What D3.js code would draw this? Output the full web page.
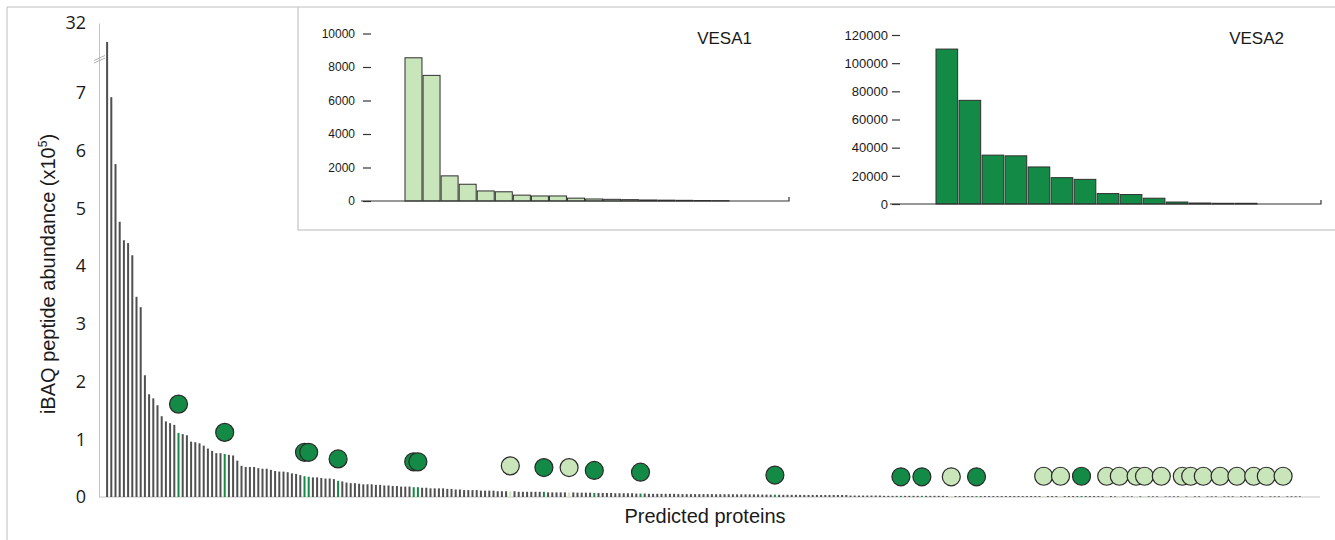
<!DOCTYPE html>
<html lang="en">
<head>
<meta charset="UTF-8">
<title>iBAQ peptide abundance</title>
<script src="https://d3js.org/d3.v7.min.js"></script>
<style>
  body { margin: 0; background: #fff; }
  svg text { fill: #1a1a1a; }
</style>
</head>
<body>
<svg id="svg" width="1335" height="540"></svg>
<script>
// ranked iBAQ abundance of all predicted proteins (x10^5)
const abundance = [
  19, 6.93, 5.77, 4.77, 4.45, 4.40, 4.19, 3.47, 3.29, 2.11,
  1.78, 1.71, 1.59, 1.40, 1.31, 1.28, 1.25, 1.11, 1.09, 1.07,
  0.96, 0.95, 0.93, 0.89, 0.84, 0.80, 0.76, 0.76, 0.745, 0.73,
  0.72, 0.63, 0.54, 0.52, 0.52, 0.52, 0.50, 0.49, 0.49, 0.47,
  0.45, 0.44, 0.44, 0.43, 0.41, 0.40, 0.38, 0.36, 0.35, 0.34,
  0.34, 0.33, 0.32, 0.32, 0.31, 0.28, 0.27, 0.25, 0.24, 0.24,
  0.23, 0.22, 0.22, 0.22, 0.21, 0.21, 0.20, 0.20, 0.19, 0.19,
  0.18, 0.18, 0.18, 0.17, 0.17, 0.16, 0.16, 0.15, 0.15, 0.15,
  0.15, 0.14, 0.14, 0.13, 0.13, 0.12, 0.12, 0.12, 0.12, 0.11,
  0.11, 0.11, 0.11, 0.10, 0.10, 0.10, 0.10, 0.10, 0.09, 0.09,
  0.09, 0.09, 0.09, 0.09, 0.09, 0.08, 0.08, 0.08, 0.08, 0.08,
  0.08, 0.08, 0.075, 0.075, 0.075, 0.075, 0.07, 0.07, 0.07, 0.07,
  0.07, 0.065, 0.065, 0.065, 0.065, 0.065, 0.06, 0.06, 0.06, 0.055,
  0.055, 0.055, 0.055, 0.055, 0.055, 0.055, 0.05, 0.05, 0.05, 0.05,
  0.05, 0.05, 0.05, 0.05, 0.05, 0.048, 0.048, 0.048, 0.048, 0.048,
  0.046, 0.046, 0.046, 0.046, 0.046, 0.044, 0.042, 0.042, 0.04, 0.04,
  0.038, 0.038, 0.038, 0.038, 0.038, 0.036, 0.036, 0.036, 0.036, 0.036,
  0.035, 0.035, 0.035, 0.035, 0.035, 0.035, 0.035, 0.025, 0.025, 0.025,
  0.025, 0.025, 0.025, 0.025, 0.025, 0.02, 0.02, 0.02, 0.02, 0.02,
  0.02, 0.02, 0.02, 0.02, 0.02, 0.02, 0.02, 0.02, 0.02, 0.02,
  0.016, 0.016, 0.016, 0.016, 0.016, 0.016, 0.016, 0.016, 0.016, 0.016,
  0.016, 0.016, 0.016, 0.016, 0.016, 0.016, 0.016, 0.016, 0.016, 0.016,
  0.016, 0.016, 0.016, 0.016, 0.016, 0.016, 0.016, 0.016, 0.016, 0.016,
  0.016, 0.016, 0.016, 0.016, 0.016, 0.016, 0.016, 0.016, 0.016, 0.016,
  0.012, 0.012, 0.012, 0.012, 0.012, 0.012, 0.012, 0.012, 0.012, 0.012,
  0.012, 0.012, 0.012, 0.012, 0.012, 0.012, 0.012, 0.012, 0.012, 0.012,
  0.012, 0.012, 0.012, 0.012, 0.012, 0.012, 0.012, 0.012, 0.012, 0.012,
  0.012, 0.012, 0.012, 0.012, 0.012, 0.012, 0.012, 0.012, 0.012, 0.012,
  0.012, 0.012, 0.012, 0.012, 0.012
];
const mainTicks = [0, 1, 2, 3, 4, 5, 6, 7, 32];

// proteins marked with a circle: rank index, family, circle height (x10^5)
const markIdx = [17, 28, 47, 48, 55, 73, 74, 96, 104, 110, 116, 127, 159, 189, 194, 201, 207,
  223, 227, 232, 238, 241, 245, 247, 251, 256, 258, 261, 265, 269, 273, 276, 280];
const markType = ["VESA2", "VESA2", "VESA2", "VESA2", "VESA2", "VESA2", "VESA2", "VESA1", "VESA2",
  "VESA1", "VESA2", "VESA2", "VESA2", "VESA2", "VESA2", "VESA1", "VESA2",
  "VESA1", "VESA1", "VESA2", "VESA1", "VESA1", "VESA1", "VESA1", "VESA1", "VESA1", "VESA1",
  "VESA1", "VESA1", "VESA1", "VESA1", "VESA1", "VESA1"];
const markLevel = [1.61, 1.12, 0.775, 0.775, 0.66, 0.61, 0.61, 0.54, 0.51, 0.51, 0.46, 0.43, 0.38,
  0.35, 0.35, 0.35, 0.35,
  0.36, 0.36, 0.36, 0.36, 0.36, 0.36, 0.36, 0.36, 0.36, 0.36, 0.36, 0.36, 0.36, 0.36, 0.36, 0.36];

// inset histograms
const vesa1Values = [8550, 7500, 1500, 1000, 600, 550, 350, 300, 300, 170, 120, 100, 80, 60, 50, 40, 30, 20];
const vesa1Ticks = [0, 2000, 4000, 6000, 8000, 10000];
const vesa2Values = [110000, 73600, 34700, 34200, 26300, 18700, 17500, 7400, 6700, 4100, 1400, 700, 500, 500];
const vesa2Ticks = [0, 20000, 40000, 60000, 80000, 100000, 120000];

const darkGreen = "#138a45";
const lightGreen = "#c9e5ba";
const barGray = "#505050";

const svg = d3.select("#svg");

// outer frame and inset frame
svg.append("path").attr("d", "M7,540V7H1335").attr("fill", "none").attr("stroke", "#bdbdbd");
svg.append("path").attr("d", "M298,7V230H1335").attr("fill", "none")
  .attr("stroke", "#d0d0d0").attr("stroke-width", 1.5);

drawMain();
drawInset({
  values: vesa1Values, ticks: vesa1Ticks, yRange: [201, 33.5], barRange: [405, 729],
  axisX: 363, axisEnd: 789, pad: 8, fontSize: 12, fill: lightGreen,
  label: "VESA1", labelX: 752, labelY: 43.5
});
drawInset({
  values: vesa2Values, ticks: vesa2Ticks, yRange: [204, 35], barRange: [936, 1257],
  axisX: 892, axisEnd: 1321, pad: 4, fontSize: 13, fill: darkGreen,
  label: "VESA2", labelX: 1284, labelY: 44
});

function drawMain() {
  const x = d3.scaleBand().domain(d3.range(abundance.length))
    .range([105, 105 + abundance.length * 4.2]);
  // broken axis: linear up to 7.6, compressed above the break
  const y = d3.scaleLinear().domain([0, 7.6, 32]).range([497, 58.5, 23]);

  const typeOf = i => {
    const k = markIdx.indexOf(i);
    return k < 0 ? null : markType[k];
  };

  svg.append("line")
    .attr("x1", 99).attr("x2", 1320)
    .attr("y1", y(0)).attr("y2", y(0))
    .attr("stroke", "#c4c4c4");

  const yAxis = svg.append("g")
    .attr("transform", "translate(99,0)")
    .call(d3.axisLeft(y).tickValues(mainTicks).tickSize(0).tickPadding(13).tickFormat(d3.format("d")));
  yAxis.select(".domain").attr("stroke", "#c4c4c4");
  yAxis.selectAll("text")
    .attr("font-family", "'Open Sans', sans-serif")
    .attr("font-size", 18)
    .attr("fill", "#1a1a1a");

  // break marks
  [0, 2.6].forEach(o => {
    svg.append("line")
      .attr("x1", 94).attr("y1", 60.5 + o)
      .attr("x2", 105).attr("y2", 55.5 + o)
      .attr("stroke", "#a8a8a8").attr("stroke-width", 0.9);
  });

  svg.append("g")
    .selectAll("rect")
    .data(abundance)
    .join("rect")
    .attr("x", (d, i) => x(i) + x.bandwidth() / 2 - 1)
    .attr("y", d => y(d))
    .attr("width", 2)
    .attr("height", d => y(0) - y(d))
    .attr("fill", (d, i) => {
      const t = typeOf(i);
      return t === null ? barGray : (t === "VESA1" ? lightGreen : darkGreen);
    });

  svg.append("g")
    .selectAll("circle")
    .data(markIdx)
    .join("circle")
    .attr("cx", d => x(d) + x.bandwidth() / 2)
    .attr("cy", (d, k) => y(markLevel[k]))
    .attr("r", 9)
    .attr("fill", (d, k) => markType[k] === "VESA1" ? lightGreen : darkGreen)
    .attr("stroke", "#2a2a2a")
    .attr("stroke-width", 1.2);

  const title = svg.append("text")
    .attr("transform", "translate(55,274) rotate(-90)")
    .attr("text-anchor", "middle")
    .attr("font-family", "'Liberation Sans', Arial, sans-serif")
    .attr("font-size", 20);
  title.append("tspan").text("iBAQ peptide abundance (x10");
  title.append("tspan").attr("dy", -8).attr("font-size", 12).text("5");
  title.append("tspan").attr("dy", 8).text(")");

  svg.append("text")
    .attr("x", 705).attr("y", 523)
    .attr("text-anchor", "middle")
    .attr("font-family", "'Liberation Sans', Arial, sans-serif")
    .attr("font-size", 20)
    .text("Predicted proteins");
}

function drawInset(opt) {
  const g = svg.append("g");
  const yI = d3.scaleLinear().domain([0, d3.max(opt.ticks)]).range(opt.yRange);
  const xI = d3.scaleBand().domain(d3.range(opt.values.length)).range(opt.barRange).paddingInner(0.06);

  g.selectAll("rect")
    .data(opt.values)
    .join("rect")
    .attr("x", (d, i) => xI(i))
    .attr("y", d => yI(d))
    .attr("width", xI.bandwidth())
    .attr("height", d => yI(0) - yI(d))
    .attr("fill", opt.fill)
    .attr("stroke", "#2f2f2f")
    .attr("stroke-width", 1);

  const ax = g.append("g")
    .attr("transform", `translate(${opt.axisX},0)`)
    .call(d3.axisLeft(yI).tickValues(opt.ticks).tickSize(-8).tickPadding(opt.pad).tickFormat(d3.format("d")));
  ax.select(".domain").remove();
  ax.selectAll("line").attr("stroke", "#333").attr("stroke-width", 1.2);
  ax.selectAll("text")
    .attr("font-family", "'Liberation Sans', Arial, sans-serif")
    .attr("font-size", opt.fontSize)
    .attr("fill", "#1a1a1a");

  g.append("path")
    .attr("d", `M${opt.axisX - 2},${yI(0)}H${opt.axisEnd}V${yI(0) - 4}`)
    .attr("fill", "none")
    .attr("stroke", "#333")
    .attr("stroke-width", 1.2);

  g.append("text")
    .attr("x", opt.labelX).attr("y", opt.labelY)
    .attr("text-anchor", "end")
    .attr("font-family", "'Liberation Sans', Arial, sans-serif")
    .attr("font-size", 17)
    .text(opt.label);
}
</script>
</body>
</html>
